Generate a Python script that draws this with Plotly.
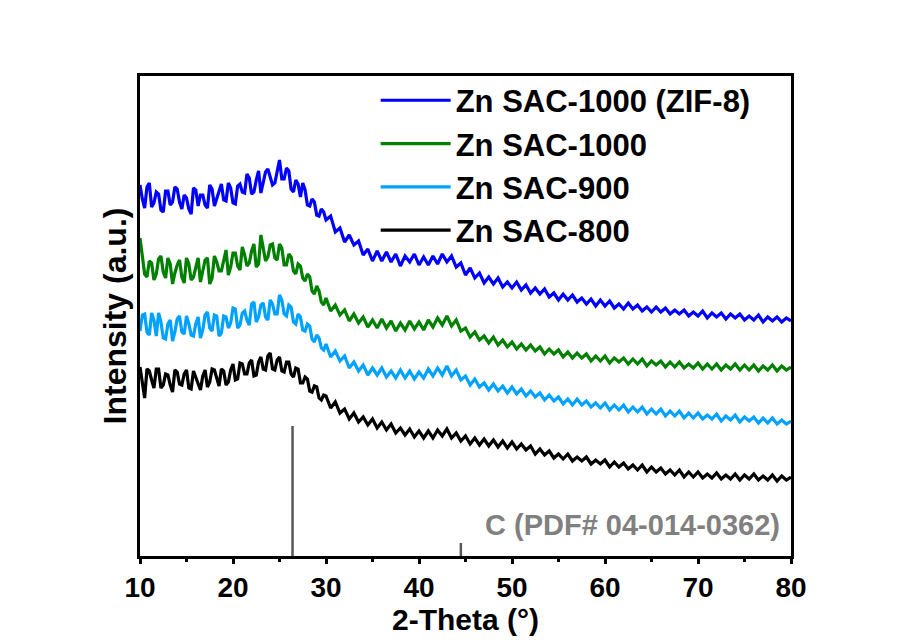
import plotly.graph_objects as go

# 2-Theta scan grid (degrees): 0.25 deg step from 10 to 30, then 0.5 deg step to 80
two_theta = [round(10 + 0.25 * i, 2) for i in range(81)] + [round(30.5 + 0.5 * i, 1) for i in range(100)]

# Intensities (a.u., stacked offsets as in the figure)
zn_sac_1000_zif8 = [
371,357,348,369,373,349,353,364,362,346,344,365,365,351,354,369,367,354,347,361,
358,347,342,368,366,350,361,361,351,348,371,367,350,358,364,372,356,355,373,368,
353,352,370,372,364,363,382,378,362,364,376,385,363,372,384,387,380,371,373,386,
396,377,377,388,385,367,364,376,372,359,373,366,351,350,357,354,341,340,347,344,
336,
340,324,328,314,321,311,315,301,307,
295,305,295,304,294,302,290,300,294,302,
291,299,291,300,292,302,294,300,289,293,
281,288,278,283,273,279,272,278,269,274,
268,274,266,271,263,268,262,267,259,263,
256,262,256,261,254,258,252,257,250,256,
250,255,248,252,247,253,247,251,245,249,
244,249,244,248,242,246,242,246,240,244,
240,245,238,243,239,243,237,242,238,242,
236,240,236,241,234,239,235,239,234,238,
235]

zn_sac_1000 = [
318,298,282,279,295,293,276,282,297,300,284,278,298,292,272,283,291,296,279,273,
298,292,276,279,290,298,274,284,296,298,272,278,300,294,285,285,296,306,281,289,
303,303,290,286,309,301,290,293,305,312,289,292,321,308,295,299,311,312,298,296,
312,308,291,291,302,299,285,282,292,290,278,275,282,279,265,262,270,265,254,251,
258,
245,251,241,246,235,242,233,239,229,
236,228,237,228,235,225,233,226,235,227,
234,226,236,229,238,231,240,230,236,225,
228,219,224,216,220,213,219,211,216,209,
214,207,212,206,211,205,209,202,207,202,
206,199,204,198,203,198,202,195,200,195,
200,193,198,194,198,192,197,192,197,190,
195,191,195,189,194,189,194,188,192,188,
193,187,192,187,192,186,191,187,192,186,
191,186,191,185,190,186,191,185,190,186,
189]

zn_sac_900 = [
225,241,242,224,221,243,236,220,243,234,218,217,232,236,215,224,237,240,224,222,
240,232,221,220,232,239,218,226,241,244,228,225,241,240,220,223,240,239,228,233,
248,247,228,231,243,245,236,231,252,254,234,239,251,253,239,236,256,252,242,242,
261,256,242,240,251,249,234,232,242,239,226,225,232,230,217,214,221,218,208,206,
212,
199,205,195,200,188,194,185,191,181,
188,181,188,179,185,178,186,178,185,177,
184,178,187,180,188,181,190,180,186,176,
180,171,177,169,173,166,172,165,170,163,
169,162,167,160,165,159,163,156,161,155,
159,152,157,151,157,151,155,149,153,148,
153,146,151,146,151,144,149,144,149,142,
147,142,147,140,145,140,145,138,143,138,
143,137,141,137,142,135,140,136,141,134,
139,135,139,133,138,133,138,132,136,132,
135]

zn_sac_800 = [
189,172,158,187,185,176,168,187,187,168,171,182,181,171,164,186,184,172,171,182,
186,168,167,185,179,172,166,180,186,169,174,187,186,178,170,187,185,171,174,186,
192,176,177,193,192,182,182,193,196,180,181,194,199,187,186,200,203,187,186,196,
199,185,184,194,194,182,179,188,187,173,173,179,177,165,164,170,169,158,156,161,
160,
148,154,143,147,137,143,134,139,131,
137,128,134,126,132,123,128,121,127,119,
125,118,125,118,126,120,127,118,123,115,
120,112,118,111,117,110,116,109,115,108,
114,107,112,106,110,102,107,101,105,98,
102,97,102,95,99,95,99,92,96,92,
96,89,94,89,93,87,91,86,91,84,
89,84,88,82,86,81,86,79,84,79,
84,78,82,78,83,77,81,77,82,76,
81,77,82,76,80,76,81,75,80,76,
79]

# Reference pattern: C (PDF# 04-014-0362)
ref_positions = [26.4, 44.5]
ref_heights = [130, 13]

series_names = ["Zn SAC-1000 (ZIF-8)", "Zn SAC-1000", "Zn SAC-900", "Zn SAC-800"]
series_colors = ["#0000FF", "#008000", "#00A2FF", "#000000"]
series_data = [zn_sac_1000_zif8, zn_sac_1000, zn_sac_900, zn_sac_800]

x_ticks = [10, 20, 30, 40, 50, 60, 70, 80]

FONT = "Liberation Sans, Arial, sans-serif"

fig = go.Figure()

for name, color, ys in zip(series_names, series_colors, series_data):
    fig.add_trace(go.Scatter(x=two_theta, y=ys, mode="lines", name=name,
                             line=dict(color=color, width=3.2)))

for pos, h in zip(ref_positions, ref_heights):
    fig.add_trace(go.Scatter(x=[pos, pos], y=[0, h], mode="lines", showlegend=False,
                             line=dict(color="#585858", width=2.5), hoverinfo="skip"))

fig.add_annotation(x=79.0, y=31, xref="x", yref="y", text="C (PDF# 04-014-0362)",
                   showarrow=False, xanchor="right", yanchor="middle",
                   font=dict(family=FONT, size=29, color="#808080", weight="bold"))

fig.update_layout(
    width=902, height=640,
    margin=dict(l=140, r=111, t=76, b=84),
    paper_bgcolor="white", plot_bgcolor="white",
    font=dict(family=FONT, color="black", weight="bold"),
    legend=dict(x=0.362, y=1.005, xanchor="left", yanchor="top",
                bgcolor="rgba(0,0,0,0)", font=dict(family=FONT, size=31, weight="bold"),
                itemwidth=70, tracegroupgap=0),
    showlegend=True,
)

fig.update_xaxes(
    range=[10, 80], tickvals=x_ticks, ticks="outside", ticklen=5, tickwidth=2.5,
    tickcolor="black", showline=True, linecolor="black", linewidth=2.5, mirror=True,
    showgrid=False, zeroline=False, automargin=False,
    tickfont=dict(family=FONT, size=28, weight="bold"),
    minor=dict(dtick=5, tick0=10, ticks="outside", ticklen=3, tickwidth=2.5, tickcolor="black"),
    title=dict(text="2-Theta (°)", font=dict(family=FONT, size=30, weight="bold"), standoff=7),
)

fig.update_yaxes(
    range=[0, 480], showticklabels=False, ticks="", showline=True, linecolor="black",
    linewidth=2.5, mirror=True, showgrid=False, zeroline=False, automargin=False,
    title=dict(text="Intensity (a.u.)", font=dict(family=FONT, size=32, weight="bold"), standoff=2),
)

fig.write_html("out.html")
